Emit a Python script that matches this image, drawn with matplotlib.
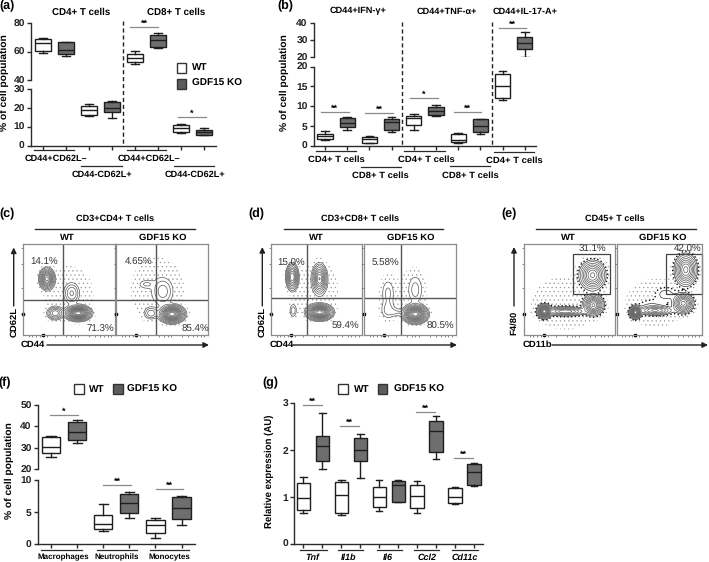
import numpy as np
import matplotlib
matplotlib.use("Agg")
import matplotlib.pyplot as plt
from matplotlib.patches import Rectangle

plt.rcParams['font.family'] = ['Liberation Sans', 'DejaVu Sans']
plt.rcParams['font.weight'] = 'bold'
plt.rcParams['text.hinting'] = 'none'
plt.rcParams['hatch.color'] = '#9a9a9a'
plt.rcParams['hatch.linewidth'] = 0.4

W, H = 709, 562
DARK = '#2b2b2b'
KO_GREY = '#6e6e6e'

# (a) one entry per box, left to right, WT and KO alternate
a_whislo = [59.3, 57.2, 15.5, 14.5, 51.3, 62.4, 6.9, 5.5]
a_q1 = [60.7, 58.4, 16.4, 17.6, 52.9, 63.3, 7.2, 5.6]
a_med = [66.4, 61.2, 18.9, 20.1, 55.8, 68.2, 9.3, 7.0]
a_q3 = [68.7, 66.6, 20.8, 22.9, 58.4, 71.5, 10.8, 8.1]
a_whishi = [69.9, 67.0, 21.9, 23.5, 60.5, 72.9, 11.5, 9.2]

# (b)
b_whislo = [1.4, 4.1, 0.7, 3.5, 4.1, 7.4, 0.8, 2.9, 11.5, 20.4]
b_q1 = [1.6, 4.8, 0.8, 4.0, 5.2, 7.8, 0.9, 3.5, 12.0, 25.1]
b_med = [2.4, 5.7, 1.6, 5.9, 7.0, 8.8, 1.4, 5.0, 15.2, 28.4]
b_q3 = [3.0, 7.0, 2.2, 6.7, 7.4, 9.8, 2.9, 6.8, 18.2, 31.8]
b_whishi = [3.7, 7.2, 2.4, 7.2, 8.0, 10.3, 3.2, 6.8, 19.0, 34.7]

# (f)
f_whislo = [25.6, 32.3, 2.0, 4.1, 1.0, 3.0]
f_q1 = [27.8, 33.5, 2.3, 4.8, 1.7, 3.9]
f_med = [30.2, 37.6, 3.1, 6.45, 2.9, 5.6]
f_q3 = [35.2, 42.2, 4.6, 7.8, 3.75, 7.3]
f_whishi = [35.5, 42.8, 6.25, 8.1, 4.1, 7.55]

# (g)
g_whislo = [0.66, 1.60, 0.61, 1.40, 0.69, 0.89, 0.65, 1.82, 0.85, 1.23]
g_q1 = [0.72, 1.76, 0.65, 1.76, 0.78, 0.90, 0.76, 1.95, 0.86, 1.25]
g_med = [0.98, 2.09, 1.05, 2.00, 0.99, 1.25, 1.01, 2.41, 0.99, 1.53]
g_q3 = [1.30, 2.30, 1.31, 2.25, 1.21, 1.35, 1.25, 2.62, 1.18, 1.70]
g_whishi = [1.43, 2.80, 1.37, 2.34, 1.36, 1.37, 1.35, 2.72, 1.21, 1.72]

# flow panels: populations as (x, y, sd x, sd y, weight) in percent of the panel
c_wt = [(26, 62, 3.5, 5, 0.6), (60, 24, 5.7, 3.4, 1.0), (35, 24, 4.2, 3.4, 0.2), (53, 46, 4, 5.5, 0.1), (50, 45, 18, 21, 0.012)]
c_ko = [(61, 23, 5.7, 4, 1.0), (51, 48, 5.6, 7.5, 0.07), (38, 24, 4, 3.5, 0.08), (33, 56, 5, 2.7, 0.03), (45, 50, 18, 22, 0.015)]
d_wt = [(23, 64, 3, 6.5, 0.45), (53, 62, 3.5, 7, 0.45), (53, 25, 5.9, 3.6, 1.0), (24, 27, 2.4, 4.5, 0.05), (50, 50, 16, 20, 0.012)]
d_ko = [(56, 23, 5.5, 4.2, 1.0), (26, 46, 4.6, 10, 0.04), (56, 50, 5, 10, 0.04), (26, 27, 5, 6, 0.04), (36, 25, 5, 3, 0.03), (50, 50, 14, 20, 0.006)]
e_wt = [(75, 66, 6.5, 7.3, 0.5), (76, 33, 5, 5, 0.6), (22, 26, 3.3, 3.3, 1.0), (45, 26, 11, 2.3, 0.35), (45, 35, 26, 20, 0.012)]
e_ko = [(81, 72, 6, 8, 0.6), (78, 35, 5.5, 5, 0.6), (22, 25, 3, 3, 1.2), (45, 27, 10, 2.5, 0.35), (40, 33, 10, 4, 0.03), (58, 45, 8, 5, 0.05), (45, 35, 26, 20, 0.012)]
flow_fractions = [0.02, 0.035, 0.06, 0.1, 0.15, 0.21, 0.28, 0.36, 0.45, 0.55, 0.66, 0.78, 0.9]
flow_xticks = [6, 10, 14, 18, 22, 26, 35, 47, 52, 56, 60, 72, 78, 84, 88, 92, 96]
flow_yticks = [23, 52, 78, 96]


def px_axes(fig, left, right, top, bottom):
    return fig.add_axes([left / W, 1 - bottom / H, (right - left) / W, (bottom - top) / H])


def style_axis(ax, xlim, ylim, yticks, show_x):
    ax.set_xlim(*xlim)
    ax.set_ylim(*ylim)
    ax.patch.set_alpha(0)
    for s in ['top', 'right']:
        ax.spines[s].set_visible(False)
    ax.spines['left'].set_color(DARK)
    ax.spines['left'].set_linewidth(1)
    ax.spines['bottom'].set_color(DARK)
    ax.spines['bottom'].set_linewidth(1)
    ax.set_yticks(yticks)
    ax.tick_params(axis='y', length=3, width=1, color=DARK, pad=1.5, labelsize=7.4, labelcolor='#222222')
    if show_x:
        ax.tick_params(axis='x', length=3, width=1, color=DARK, labelbottom=False)
    else:
        ax.spines['bottom'].set_visible(False)
        ax.set_xticks([])


def draw_boxes(ax, idx, whislo, q1, med, q3, whishi, width):
    for i in idx:
        stats = [{'whislo': whislo[i], 'q1': q1[i], 'med': med[i], 'q3': q3[i], 'whishi': whishi[i], 'fliers': []}]
        face = 'white' if i % 2 == 0 else KO_GREY
        line = dict(color='#1e1e1e', linewidth=1)
        ax.bxp(stats, positions=[i + 1], widths=width, capwidths=width * 0.5, patch_artist=True,
               manage_ticks=False, showfliers=False, boxprops=dict(facecolor=face, edgecolor='#1e1e1e', linewidth=1),
               medianprops=line, whiskerprops=line, capprops=line)


def box_panel(fig, left, right, x1, step, lo, hi, stats, width=0.7):
    # x1 = pixel of first box, step = pixels between boxes
    xlim = ((left - x1) / step + 1, (right - x1) / step + 1)
    n = len(stats[0])
    ax_lo = px_axes(fig, left, right, *lo['box'])
    style_axis(ax_lo, xlim, lo['ylim'], lo['ticks'], True)
    ax_lo.set_xticks(np.arange(1, n + 1))
    if hi is None:
        draw_boxes(ax_lo, range(n), *stats, width)
        return
    ax_hi = px_axes(fig, left, right, *hi['box'])
    style_axis(ax_hi, xlim, hi['ylim'], hi['ticks'], False)
    upper = [i for i in range(n) if stats[1][i] >= hi['ylim'][0]]
    lower = [i for i in range(n) if i not in upper]
    draw_boxes(ax_lo, lower, *stats, width)
    draw_boxes(ax_hi, upper, *stats, width)


def flow_panel(fig, left, right, top, bottom, blobs, gate_x, gate_y, dark_edge=False):
    ax = px_axes(fig, left, right, top, bottom)
    x = np.linspace(0, 100, 300)
    y = np.linspace(0, 100, 300)
    X, Y = np.meshgrid(x, y)
    Z = np.zeros_like(X)
    for cx, cy, sx, sy, w in blobs:
        Z += w * np.exp(-0.5 * (((X - cx) / sx) ** 2 + ((Y - cy) / sy) ** 2))
    peak = Z.max()
    ax.contourf(X, Y, Z, levels=[0.004 * peak, 0.02 * peak], colors='none', hatches=['....'])
    levels = [f * peak for f in flow_fractions]
    colors = ['#5a5a5a'] * len(levels)
    widths = [0.5] * len(levels)
    styles = ['-'] * len(levels)
    if dark_edge:
        colors[0] = '#111111'
        colors[1] = '#333333'
        widths[0] = 1.0
        styles[0] = ':'
    ax.contour(X, Y, Z, levels=levels, colors=colors, linewidths=widths, linestyles=styles)
    ax.set_xlim(0, 100)
    ax.set_ylim(0, 100)
    for s in ax.spines.values():
        s.set_color('#8c8c8c')
        s.set_linewidth(0.9)
    ax.set_xticks(flow_xticks)
    ax.set_yticks(flow_yticks)
    ax.tick_params(length=1.5, width=0.5, color='#555555', direction='out', pad=0, labelbottom=False, labelleft=False)
    ax.plot([22], [0], marker='s', ms=1.6, color='black', clip_on=False)
    ax.plot([0], [23], marker='s', ms=1.6, color='black', clip_on=False)
    if gate_y is not None:
        ax.axvline(gate_x, color='#555555', lw=1)
        ax.axhline(gate_y, color='#555555', lw=1)
    return ax


def sig(ov, x0, x1, y, stars):
    ov.plot([x0, x1], [y, y], color='#8a8a8a', lw=0.9)
    ov.text((x0 + x1) / 2, y - 3.5, stars, ha='center', va='center', fontsize=6.5)


def under(ov, x0, x1, y, label, tx, ty, size=6.8, italic=False):
    ov.plot([x0, x1], [y, y], color=DARK, lw=0.9)
    ov.text(tx, ty, label, ha='center', va='center', fontsize=size, style='italic' if italic else 'normal')


def legend(ov, x_wt, y, x_wt_text, x_ko, x_ko_text):
    ov.add_patch(Rectangle((x_wt, y), 9.7, 10, fc='white', ec='#333333', lw=1))
    ov.add_patch(Rectangle((x_ko, y), 9.7, 10, fc='#5c5c5c', ec='#333333', lw=1))
    ov.text(x_wt_text, y + 5, 'WT', va='center', fontsize=7.2)
    ov.text(x_ko_text, y + 5, 'GDF15 KO', va='center', fontsize=7.2)


def arrow(ov, x0, y0, x1, y1):
    ov.annotate('', xy=(x1, y1), xytext=(x0, y0),
                arrowprops=dict(arrowstyle='-|>', color='#222222', lw=1, mutation_scale=8, shrinkA=0, shrinkB=0))


def main():
    fig = plt.figure(figsize=(W / 100, H / 100), dpi=100)

    box_panel(fig, 31, 216, 43, 23.0,
              dict(box=(89, 145.5), ylim=(0, 30), ticks=[0, 10, 20, 30]),
              dict(box=(23.3, 80), ylim=(40, 80), ticks=[40, 60, 80]),
              (a_whislo, a_q1, a_med, a_q3, a_whishi))
    box_panel(fig, 314, 536, 325, 22.2,
              dict(box=(66.7, 145.7), ylim=(0, 20), ticks=[0, 5, 10, 15, 20]),
              dict(box=(23.3, 57.3), ylim=(20, 40), ticks=[20, 30, 40]),
              (b_whislo, b_q1, b_med, b_q3, b_whishi), width=0.68)
    box_panel(fig, 38, 195, 51, 26.1,
              dict(box=(480, 544), ylim=(0, 10), ticks=[0, 5, 10]),
              dict(box=(405, 469.3), ylim=(20, 50), ticks=[20, 30, 40, 50]),
              (f_whislo, f_q1, f_med, f_q3, f_whishi))
    box_panel(fig, 294.3, 483, 303.3, 18.97,
              dict(box=(403.3, 543.7), ylim=(0, 3), ticks=[0, 1, 2, 3]),
              None,
              (g_whislo, g_q1, g_med, g_q3, g_whishi))

    flow_panel(fig, 23, 115, 244.3, 335, c_wt, 43, 39)
    flow_panel(fig, 116, 208, 244.3, 335, c_ko, 43, 39)
    flow_panel(fig, 271.3, 362.3, 244.3, 335, d_wt, 39, 41)
    flow_panel(fig, 364, 455.7, 244.3, 335, d_ko, 40, 41)
    ax_e1 = flow_panel(fig, 524.3, 615.3, 244.3, 335, e_wt, 0, None, dark_edge=True)
    ax_e2 = flow_panel(fig, 616.7, 702, 244.3, 335, e_ko, 0, None, dark_edge=True)
    ax_e1.add_patch(Rectangle((54, 45), 40, 44, fill=False, ec='#444444', lw=0.9))
    ax_e2.add_patch(Rectangle((57.5, 45), 42, 44, fill=False, ec='#444444', lw=0.9, clip_on=False))

    # everything in picture pixels from here on
    ov = fig.add_axes([0, 0, 1, 1])
    ov.set_xlim(0, W)
    ov.set_ylim(H, 0)
    ov.axis('off')

    for label, x, y in [('(a)', 7, 6), ('(b)', 285, 6), ('(c)', 7, 214), ('(d)', 256, 214),
                        ('(e)', 509, 214), ('(f)', 5, 383), ('(g)', 270, 383)]:
        ov.text(x, y, label, ha='center', va='center', fontsize=9)

    # (a)
    ov.text(81, 12, 'CD4+ T cells', ha='center', va='center', fontsize=7)
    ov.text(176, 12, 'CD8+ T cells', ha='center', va='center', fontsize=7)
    ov.plot([123, 123], [21, 145], color='#222222', lw=1, ls=(0, (3, 2)))
    ov.text(4, 83, '% of cell population', rotation=90, ha='center', va='center', fontsize=7.4)
    sig(ov, 130, 158, 26.7, '**')
    sig(ov, 178, 206, 116.7, '*')
    ov.add_patch(Rectangle((176.5, 63), 9.7, 9.7, fc='white', ec='#333333', lw=1))
    ov.add_patch(Rectangle((176.5, 79), 9.7, 9.7, fc='#5c5c5c', ec='#333333', lw=1))
    ov.text(192, 67.7, 'WT', va='center', fontsize=7.2)
    ov.text(192, 83.7, 'GDF15 KO', va='center', fontsize=7.2)
    under(ov, 34, 74, 150, 'CD44+CD62L\u2013', 56, 158.7, size=6.6)
    under(ov, 81, 122, 165.7, 'CD44-CD62L+', 101.7, 174.5, size=6.6)
    under(ov, 126.7, 166, 150, 'CD44+CD62L\u2013', 149, 158.7, size=6.6)
    under(ov, 174, 214, 165.7, 'CD44-CD62L+', 195, 174.5, size=6.6)

    # (b)
    ov.text(358, 10.5, 'CD44+IFN-\u03b3+', ha='center', va='center', fontsize=6.6)
    ov.text(447, 11.5, 'CD44+TNF-\u03b1+', ha='center', va='center', fontsize=6.6)
    ov.text(524.7, 11.5, 'CD44+IL-17-A+', ha='center', va='center', fontsize=6.6)
    ov.plot([402.3, 402.3], [22, 145], color='#222222', lw=1, ls=(0, (3, 2)))
    ov.plot([492, 492], [22, 145], color='#222222', lw=1, ls=(0, (3, 2)))
    ov.text(284, 83, '% of cell population', rotation=90, ha='center', va='center', fontsize=7.4)
    sig(ov, 320.7, 348.7, 112, '**')
    sig(ov, 365, 393, 112.7, '**')
    sig(ov, 410.3, 438, 98.3, '*')
    sig(ov, 453.7, 481, 111.7, '**')
    sig(ov, 499, 526, 28.3, '**')
    under(ov, 315.7, 355.7, 150.7, 'CD4+ T cells', 336, 159.5)
    under(ov, 361, 401, 166.7, 'CD8+ T cells', 380.7, 176)
    under(ov, 404.3, 444.7, 151.3, 'CD4+ T cells', 426, 160)
    under(ov, 450, 490, 166, 'CD8+ T cells', 470, 175.5)
    under(ov, 493.7, 534, 152, 'CD4+ T cells', 514, 160.5)

    # flow headers
    for title, tx, x0, x1, wt_x, ko_x in [('CD3+CD4+ T cells', 114.7, 35, 195, 67.7, 163),
                                          ('CD3+CD8+ T cells', 360, 283.7, 443, 316, 411),
                                          ('CD45+ T cells', 615, 536, 696, 568, 663)]:
        ov.text(tx, 219, title, ha='center', va='center', fontsize=6.6)
        ov.plot([x0, x1], [229, 229], color=DARK, lw=1)
        ov.text(wt_x, 237.5, 'WT', ha='center', va='center', fontsize=6.8)
        ov.text(ko_x, 237.5, 'GDF15 KO', ha='center', va='center', fontsize=6.8)

    for txt, x, y in [('14.1%', 44, 262.5), ('71.3%', 100, 329), ('4.65%', 139, 262.5), ('85.4%', 195, 329),
                      ('15.0%', 290.7, 263), ('59.4%', 345, 326.7), ('5.58%', 385.3, 263), ('80.5%', 440, 326.7),
                      ('31.1%', 592, 249), ('42.0%', 687.3, 249)]:
        ov.text(x, y, txt, ha='center', va='center', fontsize=7, weight='normal', color='#333333')

    for ylab, lab_x, top, lab_y in [('CD62L', 13.7, 247.5, 322), ('CD62L', 262.3, 247, 322), ('F4/80', 514, 247, 323)]:
        ov.text(lab_x, lab_y, ylab, rotation=90, ha='center', va='center', fontsize=6.8)
        arrow(ov, lab_x, 306, lab_x, top)
    for xlab, tx, x0, x1 in [('CD44', 33, 47, 209), ('CD44', 281.7, 293, 457), ('CD11b', 537, 552, 708)]:
        ov.text(tx, 345, xlab, ha='center', va='center', fontsize=6.8)
        arrow(ov, x0, 345, x1, 345)

    # (f)
    legend(ov, 74, 384, 89, 113, 127.3)
    ov.text(9.3, 471, '% of cell population', rotation=90, ha='center', va='center', fontsize=7.4)
    sig(ov, 50, 77.7, 415, '*')
    sig(ov, 103.3, 130.7, 485.3, '**')
    sig(ov, 155.7, 183.3, 489, '**')
    under(ov, 40.7, 81.7, 550, 'Macrophages', 63, 557.7, size=5.8)
    under(ov, 96.7, 137, 550, 'Neutrophils', 117, 557.7, size=5.8)
    under(ov, 150, 189, 550, 'Monocytes', 169, 557.7, size=5.8)

    # (g)
    legend(ov, 338.3, 384, 354, 377.7, 394)
    ov.text(269, 471.7, 'Relative expression (AU)', rotation=90, ha='center', va='center', fontsize=6.9)
    sig(ov, 302.7, 321.7, 405, '**')
    sig(ov, 340.3, 359, 426, '**')
    sig(ov, 416.3, 435.3, 411.7, '**')
    sig(ov, 454.3, 473, 458, '**')
    under(ov, 300, 326.7, 550.3, 'Tnf', 312.3, 557.7, size=6.5, italic=True)
    under(ov, 338.3, 363.3, 550.3, 'Il1b', 349, 557.7, size=6.5, italic=True)
    under(ov, 376.7, 401.7, 550.3, 'Il6', 388.3, 557.7, size=6.5, italic=True)
    under(ov, 414.3, 439, 550.3, 'Ccl2', 426.7, 557.7, size=6.5, italic=True)
    under(ov, 452.3, 477.7, 550.3, 'Cd11c', 464.3, 557.7, size=6.5, italic=True)

    fig.savefig('out.png', dpi=100)


if __name__ == "__main__":
    main()
